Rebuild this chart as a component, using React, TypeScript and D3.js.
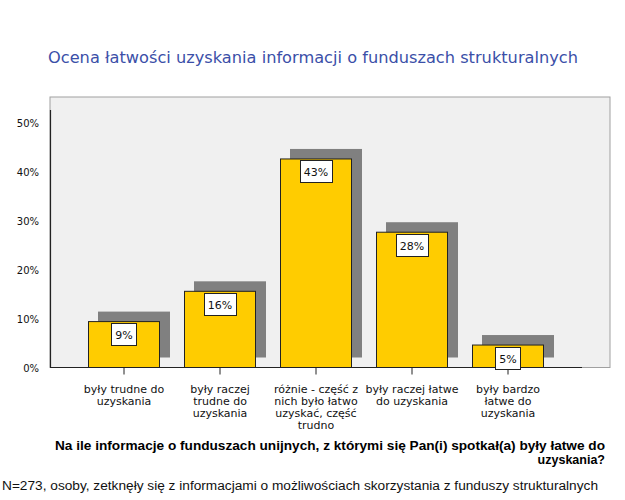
import React from "react";
import * as d3 from "d3";

const categories: string[][] = [
  ["były trudne do", "uzyskania"],
  ["były raczej", "trudne do", "uzyskania"],
  ["różnie - część z", "nich było łatwo", "uzyskać, część", "trudno"],
  ["były raczej łatwe", "do uzyskania"],
  ["były bardzo", "łatwe do", "uzyskania"],
];
const values: number[] = [9.4, 15.6, 42.7, 27.7, 4.6];
const valueLabels: string[] = ["9%", "16%", "43%", "28%", "5%"];
const yTicks: number[] = [0, 10, 20, 30, 40, 50];

const title = "Ocena łatwości uzyskania informacji o funduszach strukturalnych";
const axisTitle1 = "Na ile informacje o funduszach unijnych, z którymi się Pan(i) spotkał(a) były łatwe do";
const axisTitle2 = "uzyskania?";
const footnote = "N=273, osoby, zetknęły się z informacjami o możliwościach skorzystania z funduszy strukturalnych";

const FONT = "'DejaVu Sans', Verdana, sans-serif";
const BOLDFONT = "'Liberation Sans', Arial, sans-serif";

export default function App() {
  const frame = { x0: 50, x1: 610, y0: 97, y1: 367.5 };
  const y = d3.scaleLinear().domain([0, 50]).range([367.5, 123.3]);
  const x = d3
    .scaleBand<number>()
    .domain(values.map((_, i) => i))
    .range([76, 556])
    .paddingInner(0.25)
    .paddingOuter(0.125);
  const bw = x.bandwidth();
  const shadowOff = 10;

  const textW = (s: string, size: number) => {
    const c = document.createElement("canvas").getContext("2d");
    if (!c) return s.length * size * 0.6;
    c.font = `${size}px 'DejaVu Sans'`;
    return c.measureText(s).width;
  };

  return (
    <svg
      width={625}
      height={500}
      style={{ position: "absolute", left: 0, top: 0, background: "#fff" }}
    >
      <text
        x={313}
        y={63}
        textAnchor="middle"
        fill="#3b4fa8"
        fontFamily={FONT}
        fontSize={15}
        textLength={530}
        lengthAdjust="spacingAndGlyphs"
      >
        {title}
      </text>

      {/* plot frame */}
      <rect
        x={frame.x0}
        y={frame.y0}
        width={frame.x1 - frame.x0}
        height={frame.y1 - frame.y0}
        fill="#f0f0f0"
        stroke="#a0a0a0"
        strokeWidth={1}
      />

      {/* shadows */}
      {values.map((v, i) => (
        <rect
          key={"s" + i}
          x={(x(i) as number) + shadowOff}
          y={y(v) - shadowOff}
          width={bw}
          height={y(0) - y(v)}
          fill="#808080"
        />
      ))}

      {/* bars */}
      {values.map((v, i) => (
        <rect
          key={"b" + i}
          x={(x(i) as number) + 0.5}
          y={y(v)}
          width={bw - 1}
          height={y(0) - y(v)}
          fill="#ffcc00"
          stroke="#222"
          strokeWidth={1}
        />
      ))}

      {/* axes */}
      <line x1={50.5} x2={50.5} y1={110} y2={y(0)} stroke="#222" strokeWidth={1.2} />
      <line x1={50} x2={582} y1={y(0)} y2={y(0)} stroke="#222" strokeWidth={1.2} />
      {values.map((_, i) => {
        const cx = (x(i) as number) + bw / 2;
        return (
          <line key={"t" + i} x1={cx} x2={cx} y1={y(0)} y2={y(0) + 7} stroke="#222" strokeWidth={1} />
        );
      })}
      {yTicks.map((t) => (
        <text
          key={"y" + t}
          x={39}
          y={y(t) + 4}
          textAnchor="end"
          fontFamily={FONT}
          fontSize={10}
          fill="#111"
        >
          {t + "%"}
        </text>
      ))}

      {/* category labels */}
      {categories.map((lines, i) => {
        const cx = (x(i) as number) + bw / 2;
        return (
          <text key={"c" + i} textAnchor="middle" fontFamily={FONT} fontSize={11} fill="#111">
            {lines.map((l, j) => (
              <tspan key={j} x={cx} y={393 + j * 12}>
                {l}
              </tspan>
            ))}
          </text>
        );
      })}

      {/* value labels */}
      {values.map((v, i) => {
        const cx = (x(i) as number) + bw / 2;
        const w = textW(valueLabels[i], 11) + 8;
        const top = y(v) + 1.5;
        return (
          <g key={"l" + i}>
            <rect
              x={Math.round(cx - w / 2) + 0.5}
              y={Math.round(top) + 0.5}
              width={Math.round(w)}
              height={22}
              fill="#fff"
              stroke="#222"
              strokeWidth={1}
            />
            <text
              x={cx}
              y={Math.round(top) + 16}
              textAnchor="middle"
              fontFamily={FONT}
              fontSize={11}
              fill="#111"
            >
              {valueLabels[i]}
            </text>
          </g>
        );
      })}

      {/* axis title */}
      <text
        x={55}
        y={450}
        textAnchor="start"
        fontFamily={BOLDFONT}
        fontWeight="bold"
        fontSize={12.5}
        fill="#000"
        textLength={550}
        lengthAdjust="spacingAndGlyphs"
      >
        {axisTitle1}
      </text>
      <text
        x={605}
        y={464}
        textAnchor="end"
        fontFamily={BOLDFONT}
        fontWeight="bold"
        fontSize={12.5}
        fill="#000"
      >
        {axisTitle2}
      </text>

      <text
        x={2}
        y={490}
        fontFamily="'Liberation Sans', Arial, sans-serif"
        fontSize={12}
        fill="#111"
        textLength={596}
        lengthAdjust="spacingAndGlyphs"
      >
        {footnote}
      </text>
    </svg>
  );
}
